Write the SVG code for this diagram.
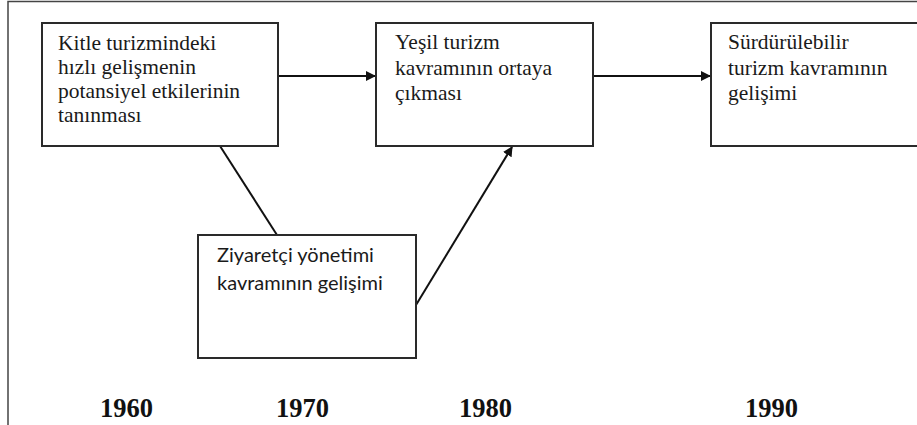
<svg xmlns="http://www.w3.org/2000/svg" width="917" height="425" viewBox="0 0 917 425">
<style>
.box{fill:#fff;stroke:#2a2a2a;stroke-width:2}
.c{stroke:#111;stroke-width:2;fill:none}
.t{font-family:"Liberation Serif","Times New Roman",serif;font-size:21.5px;fill:#1a1a1a}
.s{font-family:Lato,"Liberation Sans",sans-serif;font-size:20px;fill:#1a1a1a}
.y{font-family:"Liberation Serif","Times New Roman",serif;font-size:26.5px;font-weight:bold;fill:#111}
</style>
<defs>
<marker id="ah" markerWidth="10" markerHeight="10" refX="9" refY="5" orient="auto" markerUnits="userSpaceOnUse">
<path d="M0,0 L10,5 L0,10 Z" fill="#111"/>
</marker>
</defs>
<rect width="917" height="425" fill="#fff"/>
<path d="M8,425 V1.5 H917" fill="none" stroke="#444" stroke-width="1.5"/>
<g id="connectors">
<line class="c" x1="278" y1="76" x2="375" y2="76" marker-end="url(#ah)"/>
<line class="c" x1="593" y1="76" x2="710" y2="76" marker-end="url(#ah)"/>
<line class="c" x1="220" y1="146" x2="277" y2="235"/>
<line class="c" x1="416" y1="305" x2="512" y2="147" marker-end="url(#ah)"/>
</g>
<g id="node1">
<rect class="box" x="42" y="23" width="236" height="123"/>
<text class="t" x="58" y="50">Kitle turizmindeki</text>
<text class="t" x="58" y="74">hızlı gelişmenin</text>
<text class="t" x="58" y="98">potansiyel etkilerinin</text>
<text class="t" x="58" y="122">tanınması</text>
</g>
<g id="node2">
<rect class="box" x="376" y="23" width="217" height="123"/>
<text class="t" x="395" y="49">Yeşil turizm</text>
<text class="t" x="395" y="75">kavramının ortaya</text>
<text class="t" x="395" y="100">çıkması</text>
</g>
<g id="node3">
<rect class="box" x="711" y="23" width="230" height="123"/>
<text class="t" x="728" y="49">Sürdürülebilir</text>
<text class="t" x="728" y="75">turizm kavramının</text>
<text class="t" x="728" y="100">gelişimi</text>
</g>
<g id="node4">
<rect class="box" x="198" y="235" width="218" height="123"/>
<text class="s" x="217" y="262">Ziyaretçi yönetimi</text>
<text class="s" x="217" y="290">kavramının gelişimi</text>
</g>
<g id="years">
<text class="y" x="100" y="417">1960</text>
<text class="y" x="276" y="417">1970</text>
<text class="y" x="459" y="417">1980</text>
<text class="y" x="745" y="417">1990</text>
</g>
</svg>
